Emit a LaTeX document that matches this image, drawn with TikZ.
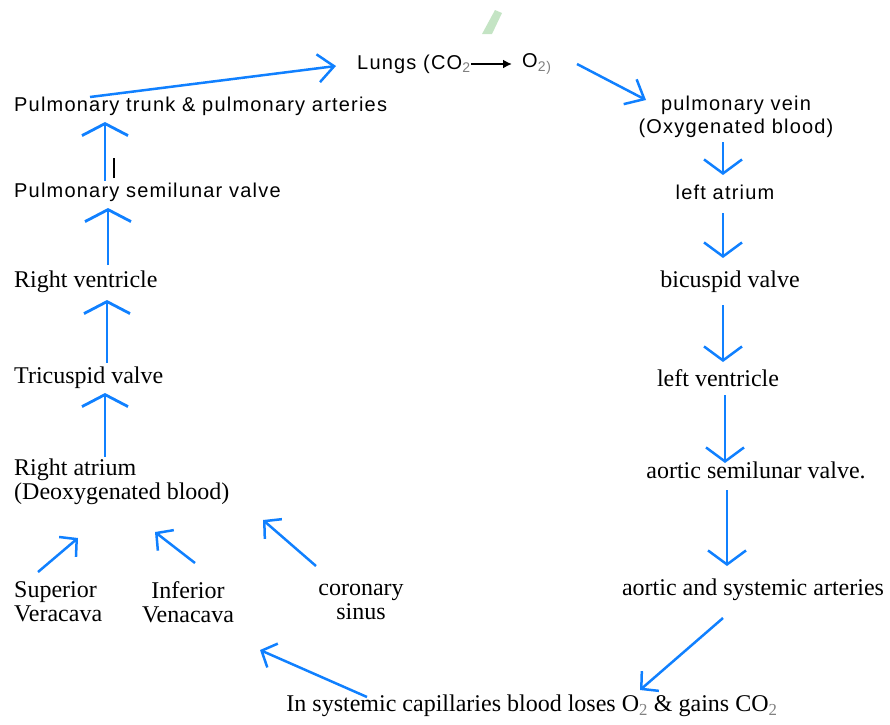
\documentclass[tikz,border=0pt]{standalone}
\usepackage{fontspec}
\setmainfont{Liberation Serif}
\newfontfamily\labelsans[LetterSpace=6]{Liberation Sans}
\usetikzlibrary{arrows.meta}
\usetikzlibrary{calc}
\definecolor{flowblue}{RGB}{16,128,255}
\definecolor{markgreen}{RGB}{196,228,196}
\newcommand\lowtwo{\textsubscript{\color{gray}2}}

\begin{document}
\begin{tikzpicture}
 [ x=1pt, y=-1pt
 , every node/.style={inner sep=0pt}
 , serif/.style={font=\fontsize{24}{24}\selectfont}
 , sans/.style={font=\labelsans\fontsize{20}{23}\selectfont}
 , flow/.style={draw=flowblue, line width=2.8pt, -{Straight Barb[length=12pt,width=46pt]}}
 , down flow/.style={flow, line width=2.5pt, -{Straight Barb[length=14pt,width=38pt]}}
 , side flow/.style={flow, line width=2.5pt, -{Straight Barb[length=12pt,width=26pt]}}
 , lung flow/.style={flow, line width=2.5pt, -{Straight Barb[length=16pt,width=28pt]}}
 ]
  \useasboundingbox (0,0) rectangle (890,724);
  % faint mark at the top
  \fill[markgreen] (482,34) -- (495,10) -- (502,13) -- (492,34) -- cycle;

  % left column (deoxygenated side)
  \node [sans, anchor=west] (lungs) at (357,64) {Lungs (CO\lowtwo};
  \node [sans, anchor=west] (lungso) at (522,64) {O\textsubscript{\color{gray}2)}};
  \node [sans, anchor=west] (trunk) at (14,106) {Pulmonary trunk \& pulmonary arteries};
  \node [sans, anchor=west] (svalve) at (14,192) {Pulmonary semilunar valve};
  \node [serif, anchor=west] (rvent) at (14,282) {Right ventricle};
  \node [serif, anchor=west] (tricusp) at (14,378) {Tricuspid valve};
  \node [serif, anchor=west, align=left] (ratrium) at (14,482) {Right atrium\\(Deoxygenated blood)};
  \node [serif, anchor=west, align=left] (supcava) at (14,602) {Superior\\Veracava};
  \node [serif, align=center] (infcava) at (188,602) {Inferior\\Venacava};
  \node [serif, align=center] (corsinus) at (361,602) {coronary\\sinus};

  % right column (oxygenated side)
  \node [sans, align=center] (pvein) at (736,117) {pulmonary vein\\(Oxygenated blood)};
  \node [sans] (latrium) at (725,192) {left atrium};
  \node [serif] (bicusp) at (730,282) {bicuspid valve};
  \node [serif] (lvent) at (718,378) {left ventricle};
  \node [serif] (avalve) at (756,470) {aortic semilunar valve.};
  \node [serif] (arteries) at (753,590) {aortic and systemic arteries};
  \node [serif] (capill) at (532,706) {In systemic capillaries blood loses O\lowtwo{} \& gains CO\lowtwo};

  % lungs
  \draw [-{Latex[length=9pt,width=9pt]}, line width=2pt] (lungs.east) -- ([xshift=-10pt]lungso.west);
  \draw [lung flow] ($(trunk.west)+(76,-9)$) -- ($(lungs.west)+(-21,2)$);
  \draw [lung flow] ($(lungso.west)+(55,0)$) -- ($(pvein.center)+(-90,-17)$);

  % down the right side
  \draw [down flow] ($(pvein.center)+(-13,25)$) -- ($(latrium.center)+(-2,-17)$);
  \draw [down flow] ($(latrium.center)+(-2,21)$) -- ($(bicusp.center)+(-7,-24)$);
  \draw [down flow] ($(bicusp.center)+(-7,23)$) -- ($(lvent.center)+(5,-16)$);
  \draw [down flow] ($(lvent.center)+(7,17)$) -- ($(avalve.center)+(-31,-7)$);
  \draw [down flow] ($(avalve.center)+(-29,20)$) -- ($(arteries.center)+(-26,-24)$);
  \draw [side flow] ($(arteries.center)+(-30,28)$) -- ($(capill.center)+(108,-16)$);
  \draw [side flow] ($(capill.center)+(-165,-9)$) -- ($(infcava.center)+(72,48)$);

  % up the left side
  \draw [flow] ($(svalve.west)+(91,-11)$) -- ($(trunk.west)+(91,16)$);
  \draw [black, line width=1.2pt] ($(svalve.west)+(100,-14)$) -- ($(svalve.west)+(100,-34)$);
  \draw [flow] ($(rvent.west)+(94,-17)$) -- ($(svalve.west)+(94,16)$);
  \draw [flow] ($(tricusp.west)+(93,-15)$) -- ($(rvent.west)+(93,18)$);
  \draw [flow] ($(ratrium.west)+(91,-25)$) -- ($(tricusp.west)+(91,15)$);
  \draw [side flow] ($(supcava.west)+(24,-30)$) -- ($(ratrium.west)+(64,56)$);
  \draw [side flow] ($(infcava.center)+(7,-39)$) -- ($(ratrium.west)+(141,50)$);
  \draw [side flow] ($(corsinus.center)+(-45,-36)$) -- ($(ratrium.west)+(249,38)$);
\end{tikzpicture}
\end{document}
